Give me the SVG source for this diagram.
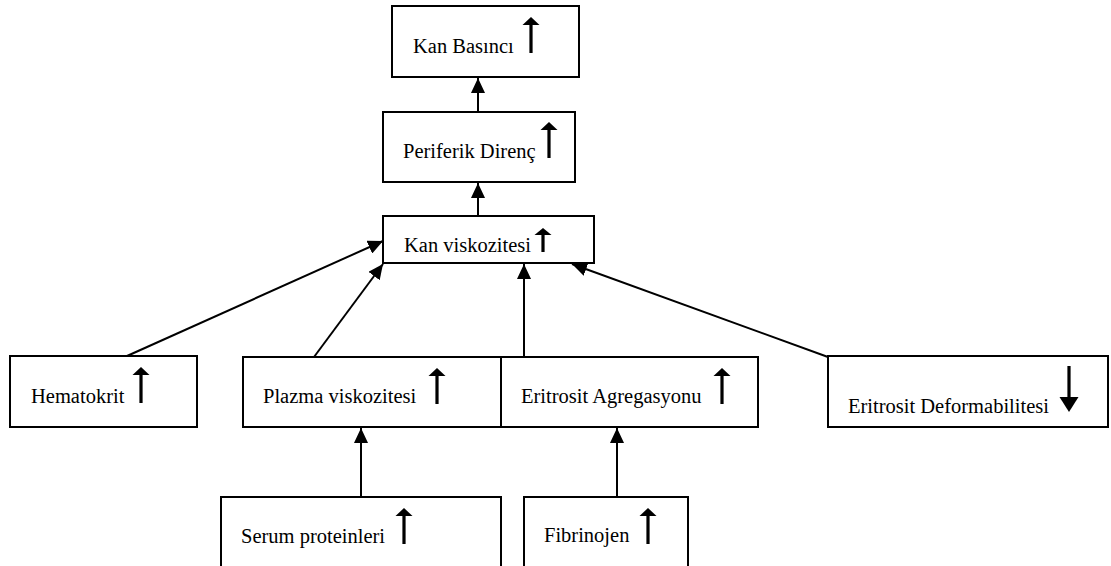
<svg xmlns="http://www.w3.org/2000/svg" xmlns:xlink="http://www.w3.org/1999/xlink" width="1111" height="566" viewBox="0 0 1111 566">
<style>
.box{fill:#fff;stroke:#000;stroke-width:2}
.t{font-family:"Liberation Serif","Times New Roman",serif;font-size:20.5px;fill:#000}
.con{fill:none;stroke:#000;stroke-width:2;marker-end:url(#ah)}
</style>
<defs>
<marker id="ah" markerUnits="userSpaceOnUse" markerWidth="16" markerHeight="14" refX="15" refY="7" orient="auto">
<path d="M0,0 L15,7 L0,14 z" fill="#000"/>
</marker>
<g id="up"><rect x="-1.6" y="5" width="3.2" height="31" fill="#000"/><polygon points="0,0 -8.5,8 8.5,8" fill="#000"/></g>
<g id="upShort"><rect x="-1.6" y="5" width="3.2" height="19" fill="#000"/><polygon points="0,0 -8.5,7 8.5,7" fill="#000"/></g>
<g id="down"><rect x="-1.6" y="0" width="3.2" height="33" fill="#000"/><polygon points="0,46 -9.5,31 9.5,31" fill="#000"/></g>
</defs>
<rect width="1111" height="566" fill="#fff"/>
<g id="connectors">
<line class="con" x1="478" y1="112" x2="478" y2="78"/>
<line class="con" x1="478" y1="216" x2="478" y2="183"/>
<line class="con" x1="127" y1="356" x2="383" y2="241"/>
<line class="con" x1="314" y1="357" x2="383" y2="264"/>
<line class="con" x1="524" y1="357" x2="524" y2="264"/>
<line class="con" x1="828" y1="357" x2="572" y2="264"/>
<line class="con" x1="361" y1="497" x2="361" y2="428"/>
<line class="con" x1="617" y1="497" x2="617" y2="428"/>
</g>
<g id="n1"><rect class="box" x="392" y="6" width="187" height="71"/><text class="t" x="413" y="53">Kan Basıncı</text><use xlink:href="#up" x="531" y="17"/></g>
<g id="n2"><rect class="box" x="383" y="112" width="192" height="70"/><text class="t" x="403" y="158">Periferik Direnç</text><use xlink:href="#up" x="549" y="122"/></g>
<g id="n3"><rect class="box" x="383" y="216" width="211" height="47"/><text class="t" x="404" y="252">Kan viskozitesi</text><use xlink:href="#upShort" x="543" y="228"/></g>
<g id="n4"><rect class="box" x="10" y="356" width="187" height="71"/><text class="t" x="31" y="403">Hematokrit</text><use xlink:href="#up" x="141" y="367"/></g>
<g id="n5"><rect class="box" x="243" y="357" width="258" height="70"/><text class="t" x="263" y="403">Plazma viskozitesi</text><use xlink:href="#up" x="437" y="368"/></g>
<g id="n6"><rect class="box" x="501" y="357" width="257" height="70"/><text class="t" x="521" y="403">Eritrosit Agregasyonu</text><use xlink:href="#up" x="722" y="368"/></g>
<g id="n7"><rect class="box" x="828" y="356" width="280" height="71"/><text class="t" x="848" y="413">Eritrosit Deformabilitesi</text><use xlink:href="#down" x="1069" y="366"/></g>
<g id="n8"><rect class="box" x="221" y="497" width="280" height="80"/><text class="t" x="241" y="543">Serum proteinleri</text><use xlink:href="#up" x="404" y="508"/></g>
<g id="n9"><rect class="box" x="524" y="497" width="164" height="80"/><text class="t" x="544" y="542">Fibrinojen</text><use xlink:href="#up" x="648" y="508"/></g>
</svg>
